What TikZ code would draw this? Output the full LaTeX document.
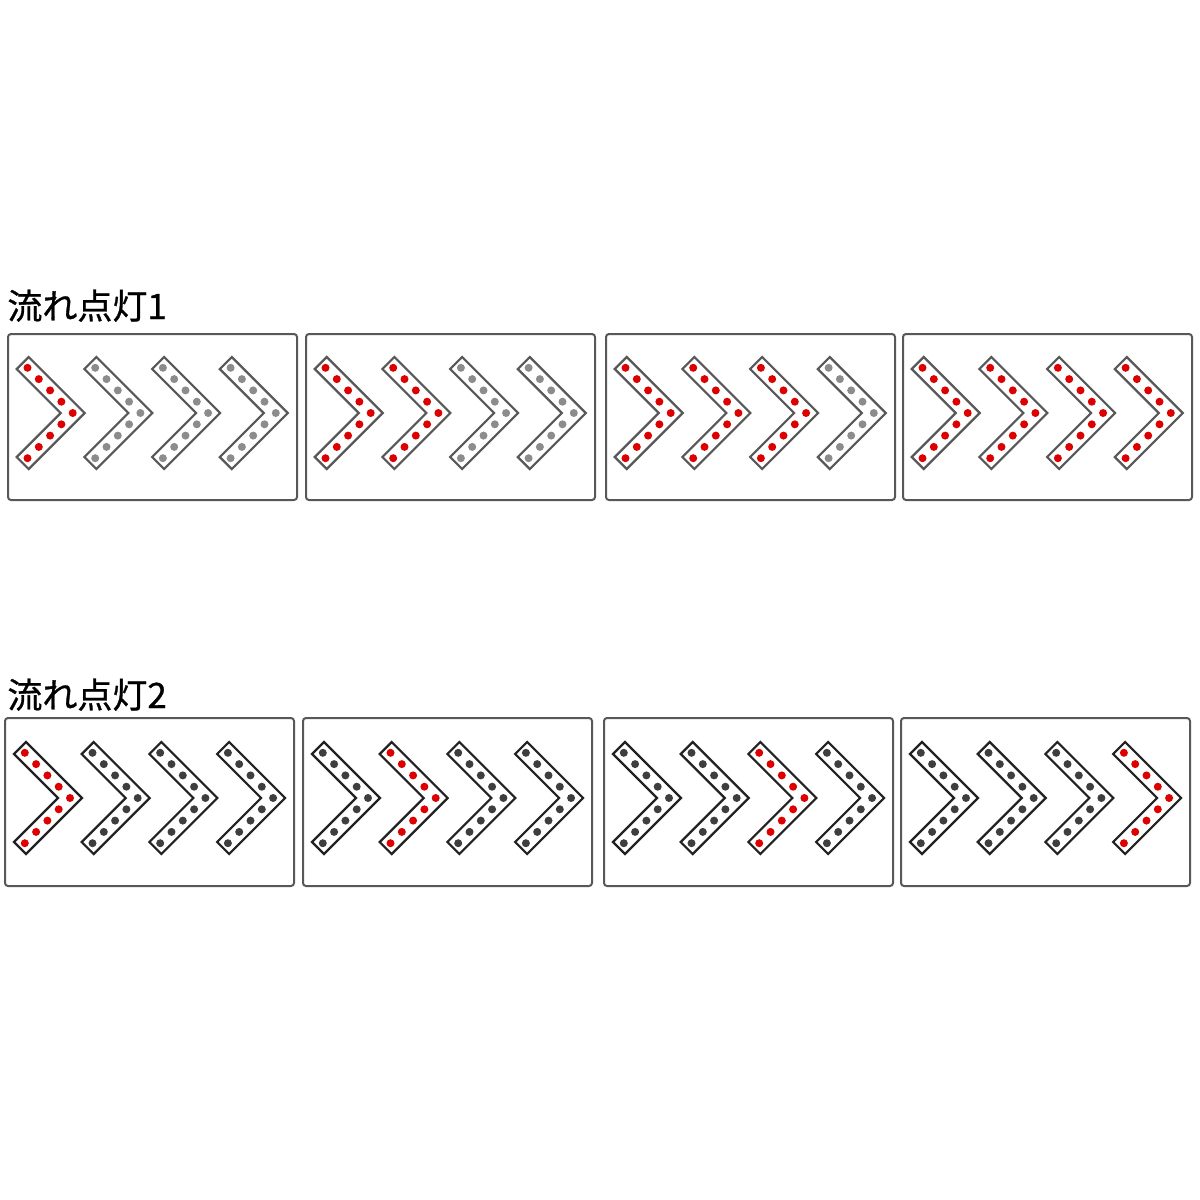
\documentclass[tikz,border=0pt]{standalone}
\usepackage{fontspec}
\newfontfamily\jpfont[FakeBold=0.8]{Noto Sans CJK JP}
\usetikzlibrary{calc, math}

\definecolor{ledred}{HTML}{DC0000}
\definecolor{ledgrey}{HTML}{8C8C8C}
\definecolor{leddark}{HTML}{3E3E3E}
\definecolor{frame}{HTML}{585858}
\definecolor{darkframe}{HTML}{222222}

\begin{document}
\begin{tikzpicture}[x=0.5pt, y=-0.5pt,
  panel/.style={draw=frame, line width=1pt, rounded corners=1.5pt},
  chev/.style={draw=#1, line width=1.1pt, line join=miter},
  title/.style={font=\jpfont\fontsize{17.5pt}{20pt}\selectfont, inner sep=0pt, anchor=base west}]

\tikzmath{
			\pw = 289; \ph = 166;
			\cp = 67.7; \ds = 11.3; \dr = 4;
          }

\useasboundingbox (0,0) rectangle (1200,1200);

\node[title] (title1) at (7,319) {流れ点灯1};
\node[title] (title2) at (7,708) {流れ点灯2};

% row 1: lit chevrons add up
\foreach \p/\x in {0/8, 1/306, 2/606, 3/903} {
  \draw[panel] (\x,334) rectangle ++(\pw,\ph);
  \foreach \j in {0,...,3} {
    \ifnum\j>\p \def\dotcol{ledgrey}\else\def\dotcol{ledred}\fi
    \tikzmath{\cx = \x + 64.7 + \cp*\j;}
    \draw[chev=frame] (\cx-44,357) -- ++(56,56) -- ++(-56,56) -- ++(-12,-12) -- ++(44,-44) -- ++(-44,-44) -- cycle;
    \foreach \k in {-4,...,4}
      \fill[\dotcol] ({\cx-\ds*abs(\k)},{413+\ds*\k}) circle (\dr);
  }
}

% row 2: one chevron lit
\foreach \p/\x in {0/5, 1/303, 2/604, 3/901} {
  \draw[panel] (\x,718) rectangle ++(\pw,\ph+2);
  \foreach \j in {0,...,3} {
    \ifnum\j=\p \def\dotcol{ledred}\else\def\dotcol{leddark}\fi
    \tikzmath{\cx = \x + 65 + \cp*\j;}
    \draw[chev=darkframe] (\cx-44,742) -- ++(56,56) -- ++(-56,56) -- ++(-12,-12) -- ++(44,-44) -- ++(-44,-44) -- cycle;
    \foreach \k in {-4,...,4}
      \fill[\dotcol] ({\cx-\ds*abs(\k)},{798+\ds*\k}) circle (\dr);
  }
}

\end{tikzpicture}
\end{document}
